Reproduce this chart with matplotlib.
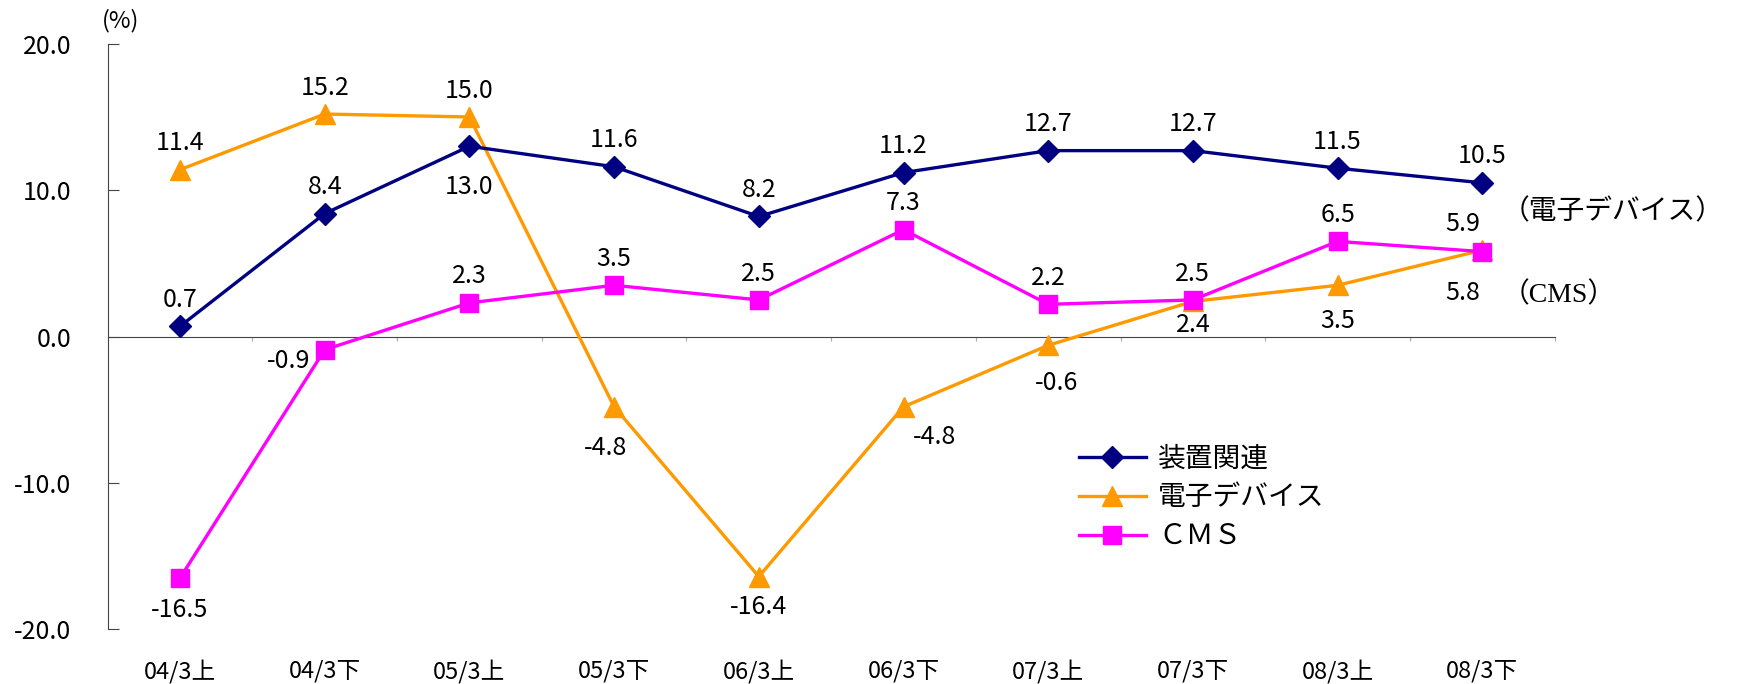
import matplotlib
matplotlib.use('Agg')
import matplotlib.pyplot as plt
import matplotlib.transforms as mtransforms
import numpy as np

plt.rcParams['font.family'] = ['Liberation Sans Narrow', 'Noto Sans CJK JP', 'DejaVu Sans']

# data
periods = ['04/3上', '04/3下', '05/3上', '05/3下', '06/3上',
           '06/3下', '07/3上', '07/3下', '08/3上', '08/3下']
souchi = [0.7, 8.4, 13.0, 11.6, 8.2, 11.2, 12.7, 12.7, 11.5, 10.5]
denshi = [11.4, 15.2, 15.0, -4.8, -16.4, -4.8, -0.6, 2.4, 3.5, 5.9]
cms = [-16.5, -0.9, 2.3, 3.5, 2.5, 7.3, 2.2, 2.5, 6.5, 5.8]
yticks = [20.0, 10.0, 0.0, -10.0, -20.0]

# label placement (dx, dy in points)
up = (0, 19)
souchi_off = [up, up, (0, -29), up, up, up, up, up, up, up]
denshi_off = [up, up, up, (-6, -30), (0, -22), (22, -22), (6, -27), (0, -17), (0, -26), (-14, 19)]
cms_off = [(0, -23), (-26, -8), up, up, up, up, up, up, up, (-14, -30)]

x = np.arange(len(periods))

fig = plt.figure(figsize=(17.37, 6.84), dpi=100)
ax = fig.add_axes([0.062, 0.080, 0.833, 0.856])

navy = '#000080'
orange = '#FF9900'
magenta = '#FF00FF'

ax.plot(x, souchi, color=navy, lw=2.4, marker='D', ms=11, label='装置関連', zorder=4)
ax.plot(x, denshi, color=orange, lw=2.4, marker='^', ms=15, label='電子デバイス', zorder=3)
ax.plot(x, cms, color=magenta, lw=2.4, marker='s', ms=13, label='ＣＭＳ', zorder=5)

for vals, offs in [(souchi, souchi_off), (denshi, denshi_off), (cms, cms_off)]:
    for xi, v, o in zip(x, vals, offs):
        ax.annotate(f'{v:.1f}', (xi, v), xytext=o, textcoords='offset points',
                    ha='center', va='center', fontsize=18)

ax.set_xlim(-0.5, len(periods) - 0.5)
ax.set_ylim(-20, 20)

ax.spines['top'].set_visible(False)
ax.spines['right'].set_visible(False)
ax.spines['left'].set_color('#444444')
ax.spines['bottom'].set_position(('data', 0))
ax.spines['bottom'].set_color('#444444')

ax.set_yticks(yticks)
ax.set_yticklabels([f'{t:.1f}' for t in yticks], fontsize=18)
ax.tick_params(axis='y', direction='in', length=8, pad=26, color='#444444')

ax.set_xticks(np.arange(len(periods) + 1) - 0.5)
ax.set_xticklabels([])
ax.tick_params(axis='x', direction='out', length=3, color='#aaaaaa')

trans = mtransforms.blended_transform_factory(ax.transData, ax.transAxes)
for xi, p in zip(x, periods):
    ax.text(xi, -0.072, p, transform=trans, ha='center', va='center', fontsize=17)

ax.text(-0.004, 1.04, '(%)', transform=ax.transAxes, ha='left', va='center', fontsize=17)

# right-side series labels
ax.annotate('（電子デバイス）', (x[-1], denshi[-1]), xytext=(14, 28), textcoords='offset points',
            ha='left', va='center', fontsize=20, family=['Noto Sans CJK JP'])
ax.annotate('（CMS）', (x[-1], cms[-1]), xytext=(14, -31), textcoords='offset points',
            ha='left', va='center', fontsize=20, family=['Liberation Serif', 'Noto Sans CJK JP'])

leg = ax.legend(loc='upper left', bbox_to_anchor=(0.654, 0.36), frameon=False,
                handlelength=2.4, handletextpad=0.45, labelspacing=0.32,
                prop={'family': ['Noto Sans CJK JP'], 'size': 20})

fig.savefig('out.png', dpi=100)
